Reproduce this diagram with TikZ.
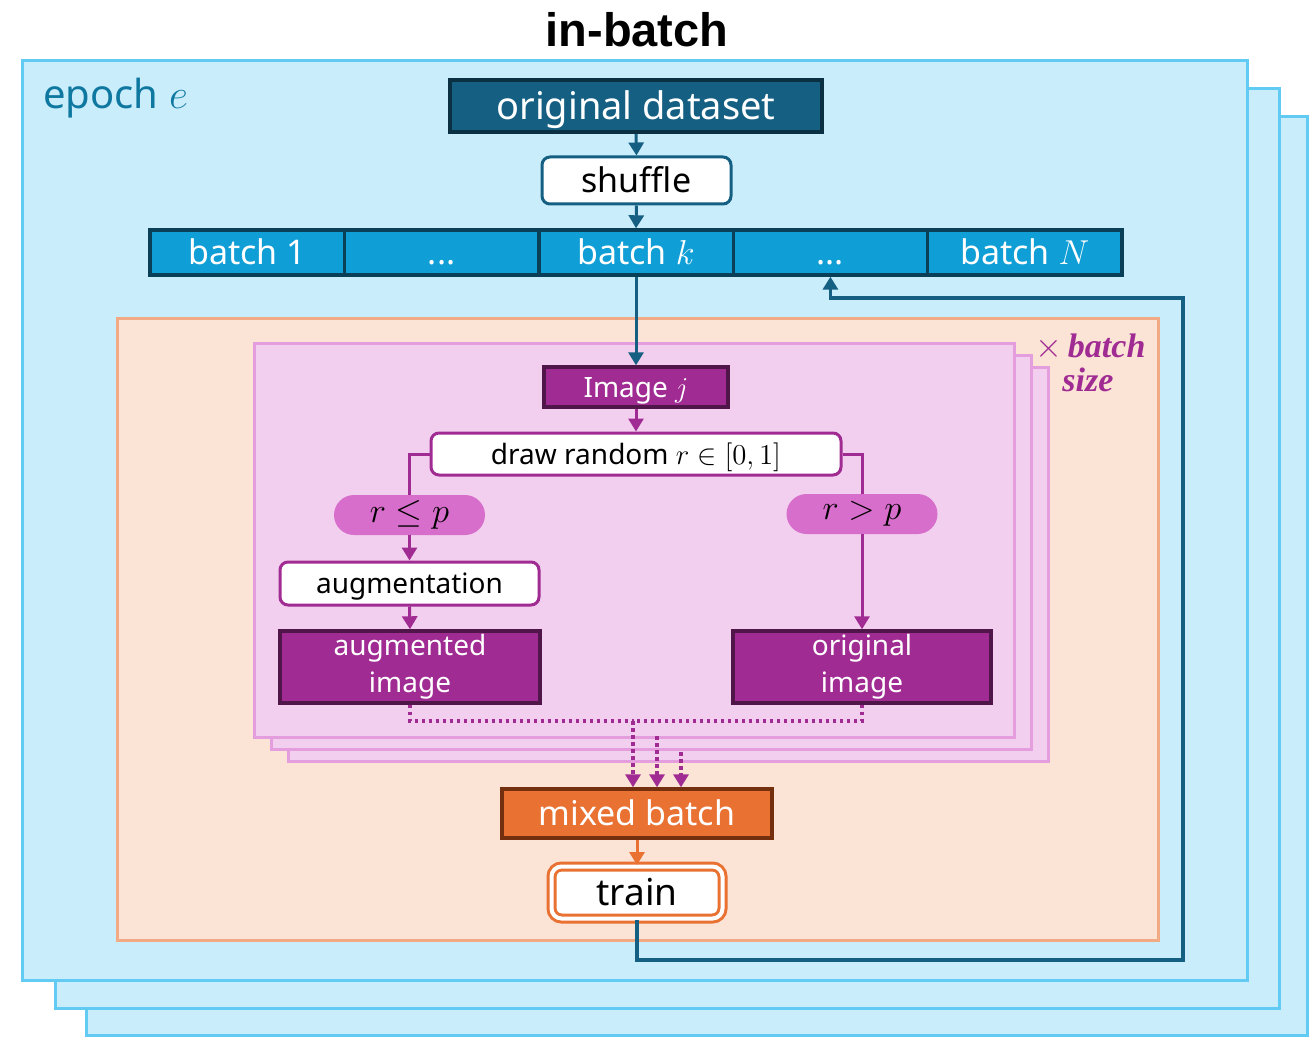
\documentclass[tikz,border=0pt]{standalone}
\usepackage{fontspec}
\setmainfont{Noto Sans}
\newfontfamily\capserif{Liberation Serif}
\newfontfamily\headfont{Liberation Sans}
\usetikzlibrary{arrows.meta}

\definecolor{epochfill}{HTML}{CAEDFB}
\definecolor{epochline}{HTML}{62CBF4}
\definecolor{epochtext}{HTML}{0E78A0}
\definecolor{accblue}{HTML}{156082}
\definecolor{accbluedark}{HTML}{0B3041}
\definecolor{batchfill}{HTML}{0F9ED5}
\definecolor{batchline}{HTML}{093F57}
\definecolor{orgfill}{HTML}{FBE3D6}
\definecolor{orgline}{HTML}{F2AA84}
\definecolor{pinkfill}{HTML}{F2CFEE}
\definecolor{pinkline}{HTML}{E59EDD}
\definecolor{accpurple}{HTML}{A02B93}
\definecolor{purpledark}{HTML}{501649}
\definecolor{pillfill}{HTML}{D86ECC}
\definecolor{accorange}{HTML}{E97132}
\definecolor{orangedark}{HTML}{74300E}

\tikzset{
  tipA/.style={-{Triangle[width=7.5pt,length=6.5pt]}},
  conn/.style={line width=1.5pt},
  epochbox/.style={draw=epochline, fill=epochfill, line width=1.5pt},
  pinkbox/.style={draw=pinkline, fill=pinkfill, line width=1.5pt},
  dsbox/.style={draw=accbluedark, fill=accblue, line width=2pt, text=white,
    inner sep=0pt, font=\fontsize{19}{23}\selectfont, text height=13.7pt, text depth=0pt},
  whitebox/.style={fill=white, line width=1.5pt, rounded corners=4pt, inner sep=0pt},
  batchcell/.style={draw=batchline, fill=batchfill, line width=1.7pt, text=white,
    inner sep=0pt, minimum width=97.2pt, minimum height=22.5pt,
    font=\fontsize{17}{20}\selectfont, text height=12.5pt, text depth=0pt},
  purplebox/.style={draw=purpledark, fill=accpurple, line width=1.7pt, text=white,
    inner sep=0pt, font=\fontsize{14}{18.5}\selectfont, align=center},
  pillbox/.style={fill=pillfill, rounded corners=10pt, inner sep=0pt,
    minimum width=75.5pt, minimum height=20pt, font=\fontsize{16}{19}\selectfont},
  dotline/.style={draw=accpurple, line width=1.8pt, dash pattern=on 1.8pt off 1.7pt},
}

\begin{document}
\begin{tikzpicture}[x=0.5pt, y=-0.5pt]
\useasboundingbox (0,0) rectangle (1309,1037);

% stacked epoch frames
\draw[epochbox] (86,117) rectangle (1307,1035);
\draw[epochbox] (55,89) rectangle (1279,1008);
\draw[epochbox] (22,61) rectangle (1247,980);

\node[font=\headfont\bfseries\fontsize{23.5}{27}\selectfont, text height=16.8pt, text depth=0pt, inner sep=0pt]
  (title) at (637,30) {in-batch};
\node[anchor=west, text=epochtext, font=\fontsize{20}{24}\selectfont, inner sep=0pt]
  (epochlbl) at (43,98) {epoch $e$};

% dataset, shuffle and batch row
\node[dsbox, minimum width=186pt, minimum height=26pt] (ds) at (636,106) {original dataset};
\node[whitebox, draw=accblue, minimum width=94.5pt, minimum height=23.5pt,
      font=\fontsize{17}{20}\selectfont, text height=12.3pt, text depth=0pt] (shuf) at (636.5,180.5) {shuffle};

\node[batchcell] (b1) at (247.2,252.5) {batch 1};
\node[batchcell] (b2) at (441.6,252.5) {...};
\node[batchcell] (bk) at (636,252.5) {batch $k$};
\node[batchcell] (b4) at (830.4,252.5) {...};
\node[batchcell] (bN) at (1024.8,252.5) {batch $N$};

\draw[conn, accblue, tipA] (ds.south) -- (shuf.north);
\draw[conn, accblue, tipA] (shuf.south) -- (bk.north);

% per-batch region
\draw[draw=orgline, fill=orgfill, line width=1.5pt] (117,318) rectangle (1158,940);

% stacked per-image frames
\draw[pinkbox] (288,367) rectangle (1048,761);
\draw[pinkbox] (271,355) rectangle (1031,749);
\draw[pinkbox] (254,343) rectangle (1014,737);

\node[anchor=base west, text=accpurple, inner sep=0pt, font=\fontsize{17}{20}\selectfont]
  (bs1) at (1035,357) {$\times$\,{\capserif\bfseries\itshape batch}};
\node[anchor=base west, text=accpurple, inner sep=0pt, font=\capserif\bfseries\itshape\fontsize{17}{20}\selectfont]
  (bs2) at (1062,391) {size};

% image pipeline
\node[purplebox, minimum width=92pt, minimum height=20pt, text height=10.2pt, text depth=0pt]
  (img) at (636,387) {Image $j$};
\node[whitebox, draw=accpurple, minimum width=205pt, minimum height=21pt,
      font=\fontsize{14}{17}\selectfont, text height=10.2pt, text depth=0pt]
  (rnd) at (636,454) {draw random $r\in[0,1]$};
\node[pillbox] (pl) at (409.5,515) {$r\leq p$};
\node[pillbox] (pr) at (862,514) {$r>p$};
\node[whitebox, draw=accpurple, minimum width=129.5pt, minimum height=21.5pt,
      font=\fontsize{14}{17}\selectfont, text height=10.2pt, text depth=0pt]
  (aug) at (409.5,583.5) {augmentation};
\node[purplebox, minimum width=130pt, minimum height=36pt] (augimg) at (410,667) {augmented\\image};
\node[purplebox, minimum width=129pt, minimum height=36pt] (origimg) at (862,667) {original\\image};

\draw[conn, accblue, tipA] (bk.south) -- (img.north);
\draw[conn, accpurple, tipA] (img.south) -- (rnd.north);
\draw[conn, accpurple] (rnd.west) -| (pl.north);
\draw[conn, accpurple, tipA] (pl.south) -- (aug.north);
\draw[conn, accpurple, tipA] (aug.south) -- (augimg.north);
\draw[conn, accpurple] (rnd.east) -| (pr.north);
\draw[conn, accpurple, tipA] (pr.south) -- (origimg.north);

% mixing into the batch
\node[draw=orangedark, fill=accorange, line width=1.7pt, text=white, inner sep=0pt,
      minimum width=135pt, minimum height=24.5pt,
      font=\fontsize{17}{20}\selectfont, text height=12.4pt, text depth=0pt]
  (mix) at (637,813.5) {mixed batch};
\node[draw=accorange, double=white, double distance=2pt, line width=1.5pt, fill=white,
      rounded corners=5pt, inner sep=0pt, minimum width=85.5pt, minimum height=26pt,
      font=\fontsize{18.5}{22}\selectfont, text height=13.3pt, text depth=0pt]
  (train) at (637,892.5) {train};

\coordinate (mj) at (633,721);
\coordinate (m2) at (657,736);
\coordinate (m3) at (681,752);
\draw[dotline] (augimg.south) |- (mj);
\draw[dotline] (origimg.south) |- (mj);
\draw[dotline, tipA, accpurple] (mj) -- (mj |- mix.north);
\draw[dotline, tipA, accpurple] (m2) -- (m2 |- mix.north);
\draw[dotline, tipA, accpurple] (m3) -- (m3 |- mix.north);

\draw[conn, accorange, tipA] (mix.south) -- (train.north);

% loop back to the next batch
\coordinate (lpA) at (1183,960);
\coordinate (lpB) at (1183,298);
\draw[line width=1.8pt, accblue, tipA] (train.south) |- (lpA) -- (lpB) -| (b4.south);
\end{tikzpicture}
\end{document}
